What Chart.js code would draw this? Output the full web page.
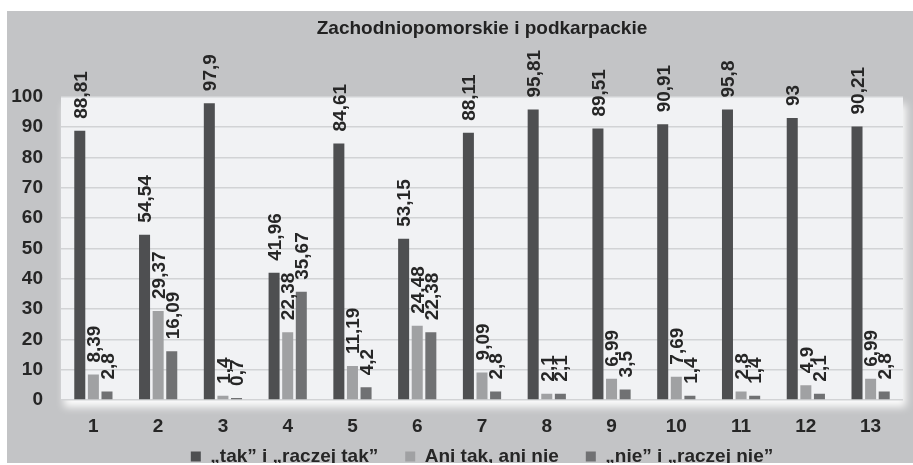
<!DOCTYPE html>
<html lang="pl">
<head>
<meta charset="utf-8">
<title>Zachodniopomorskie i podkarpackie</title>
<script src="https://cdn.jsdelivr.net/npm/chart.js@4.4.1/dist/chart.umd.min.js"></script>
<style>
    html, body { margin: 0; padding: 0; background: #ffffff; }
    .chart-box { position: absolute; left: 7px; top: 11px; width: 906px; height: 452px; }
</style>
</head>
<body>
<div class="chart-box"><canvas id="regionChart"></canvas></div>
<script>
// Data
const categories = ['1', '2', '3', '4', '5', '6', '7', '8', '9', '10', '11', '12', '13'];
const seriesNames = ['\u201etak\u201d i \u201eraczej tak\u201d', 'Ani tak, ani nie', '\u201enie\u201d i \u201eraczej nie\u201d'];
const yesValues = [88.81, 54.54, 97.9, 41.96, 84.61, 53.15, 88.11, 95.81, 89.51, 90.91, 95.8, 93, 90.21];
const neutralValues = [8.39, 29.37, 1.4, 22.38, 11.19, 24.48, 9.09, 2.1, 6.99, 7.69, 2.8, 4.9, 6.99];
const noValues = [2.8, 16.09, 0.7, 35.67, 4.2, 22.38, 2.8, 2.1, 3.5, 1.4, 1.4, 2.1, 2.8];
const yTicks = [0, 10, 20, 30, 40, 50, 60, 70, 80, 90, 100];

const FONT = "'Liberation Sans', Arial, sans-serif";
const TEXT = '#262626';

Chart.defaults.font.family = FONT;
Chart.defaults.color = TEXT;

// Grey background + plot panel with a soft light edge
const backdrop = {
    id: 'backdrop',
    beforeDraw(chart) {
        const { ctx, chartArea: a } = chart;
        ctx.save();
        ctx.fillStyle = '#c3c4c6';
        ctx.fillRect(0, 0, chart.width, chart.height);
        ctx.shadowColor = 'rgba(255,255,255,0.95)';
        ctx.shadowBlur = 8;
        ctx.shadowOffsetX = 3;
        ctx.shadowOffsetY = 7;
        ctx.fillStyle = '#f1f2f4';
        ctx.fillRect(a.left, a.top, a.right - a.left, a.bottom - a.top);
        ctx.restore();
    }
};

// Rotated value labels above the bars
const valueLabels = {
    id: 'valueLabels',
    afterDatasetsDraw(chart) {
        const ctx = chart.ctx;
        ctx.save();
        ctx.font = 'bold 19px ' + FONT;
        ctx.fillStyle = TEXT;
        ctx.textAlign = 'left';
        ctx.textBaseline = 'alphabetic';
        chart.data.datasets.forEach((ds, i) => {
            chart.getDatasetMeta(i).data.forEach((bar, j) => {
                const text = String(ds.data[j]).replace('.', ',');
                ctx.save();
                ctx.translate(bar.x, bar.y - 12);
                ctx.rotate(-Math.PI / 2);
                ctx.fillText(text, 0, 6.8);
                ctx.restore();
            });
        });
        ctx.restore();
    }
};

const ctx = document.getElementById('regionChart').getContext('2d');
new Chart(ctx, {
    type: 'bar',
    data: {
        labels: categories,
        datasets: [{
            label: seriesNames[0],
            data: yesValues,
            backgroundColor: '#4e4f51'
        }, {
            label: seriesNames[1],
            data: neutralValues,
            backgroundColor: '#a0a1a3'
        }, {
            label: seriesNames[2],
            data: noValues,
            backgroundColor: '#707173'
        }]
    },
    options: {
        responsive: true,
        maintainAspectRatio: false,
        animation: false,
        devicePixelRatio: 1,
        layout: {
            padding: { left: 0, right: 10, top: 0, bottom: -13 }
        },
        datasets: {
            bar: {
                barPercentage: 0.81,
                categoryPercentage: 0.63,
                borderWidth: 0
            }
        },
        scales: {
            x: {
                grid: { display: false },
                border: { display: false },
                ticks: {
                    // mirror keeps the labels from being clipped to the thin axis box
                    mirror: true,
                    padding: -38,
                    color: TEXT,
                    font: { size: 19, weight: 'bold' }
                },
                afterFit(scale) { scale.height = 20; }
            },
            y: {
                min: 0,
                max: 100,
                afterBuildTicks(scale) {
                    scale.ticks = yTicks.map(v => ({ value: v }));
                },
                grid: {
                    color: '#d2d3d5',
                    lineWidth: 1.5,
                    drawTicks: false
                },
                border: { display: false },
                ticks: {
                    padding: 18,
                    color: TEXT,
                    font: { size: 19, weight: 'bold' }
                },
                afterFit(scale) { scale.width = 54; }
            }
        },
        plugins: {
            title: {
                display: true,
                text: 'Zachodniopomorskie i podkarpackie',
                fullSize: false,
                color: '#222222',
                font: { size: 19, weight: 'bold' },
                padding: { top: 6, bottom: 57 }
            },
            legend: {
                position: 'bottom',
                fullSize: false,
                labels: {
                    boxWidth: 10,
                    boxHeight: 10,
                    padding: 27,
                    color: TEXT,
                    font: { size: 19, weight: 'bold' }
                }
            },
            tooltip: { enabled: false }
        }
    },
    plugins: [backdrop, valueLabels]
});
</script>
</body>
</html>
